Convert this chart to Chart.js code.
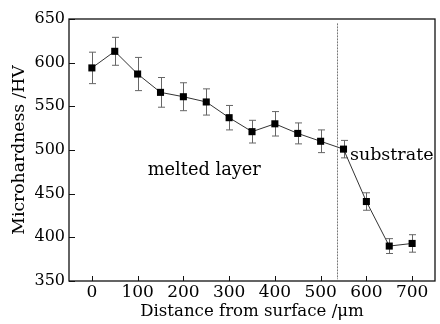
<!DOCTYPE html>
<html>
<head>
<meta charset="utf-8">
<script src="https://cdn.jsdelivr.net/npm/chart.js@4/dist/chart.umd.min.js"></script>
<style>
  html, body { margin: 0; padding: 0; background: #fff; }
  #wrap { width: 440px; height: 324px; position: relative; }
</style>
</head>
<body>
<div id="wrap"><canvas id="c" width="440" height="324"></canvas></div>
<script>
// ---- data ----
const distances = [0, 50, 100, 150, 200, 250, 300, 350, 400, 450, 500, 550, 600, 650, 700];
const hardness  = [594, 613, 587, 566, 561, 555, 537, 521, 530, 519, 510, 501, 441, 390, 393];
const errors    = [18, 16, 19, 17, 16, 15, 14, 13, 14, 12, 13, 10, 10, 8.5, 10];
const xTickValues = [0, 100, 200, 300, 400, 500, 600, 700];
const yTickValues = [350, 400, 450, 500, 550, 600, 650];
const boundaryDistance = 535;
const labelMelted = { text: 'melted layer', x: 122, y: 477 };
const labelSubstrate = { text: 'substrate', x: 564, y: 494 };

Chart.defaults.font.family = '"DejaVu Serif", "Liberation Serif", serif';
Chart.defaults.color = '#000';

const framePlugin = {
  id: 'frame',
  afterDatasetsDraw(chart) {
    const { ctx, chartArea: a, scales } = chart;
    const xs = scales.x, ys = scales.y;
    ctx.save();
    // boundary dotted line
    ctx.strokeStyle = '#777';
    ctx.lineWidth = 1;
    ctx.setLineDash([2, 1]);
    const bx = Math.round(xs.getPixelForValue(boundaryDistance)) + 0.5;
    ctx.beginPath();
    ctx.moveTo(bx, ys.getPixelForValue(645));
    ctx.lineTo(bx, ys.getPixelForValue(352));
    ctx.stroke();
    ctx.setLineDash([]);
    // frame
    ctx.strokeStyle = '#111';
    ctx.lineWidth = 1.3;
    ctx.strokeRect(a.left, a.top, a.right - a.left, a.bottom - a.top);
    // inward ticks
    ctx.lineWidth = 1;
    ctx.beginPath();
    xTickValues.forEach(v => {
      const px = Math.round(xs.getPixelForValue(v)) + 0.5;
      ctx.moveTo(px, a.bottom);
      ctx.lineTo(px, a.bottom - 5);
    });
    yTickValues.forEach(v => {
      const py = Math.round(ys.getPixelForValue(v)) + 0.5;
      ctx.moveTo(a.left, py);
      ctx.lineTo(a.left + 6, py);
    });
    ctx.stroke();
    // annotations
    ctx.fillStyle = '#000';
    ctx.font = '17.8px "DejaVu Serif", serif';
    ctx.textBaseline = 'middle';
    ctx.textAlign = 'left';
    ctx.fillText(labelMelted.text, xs.getPixelForValue(labelMelted.x), ys.getPixelForValue(labelMelted.y));
    ctx.font = '17.5px "DejaVu Serif", serif';
    ctx.fillText(labelSubstrate.text, xs.getPixelForValue(labelSubstrate.x), ys.getPixelForValue(labelSubstrate.y));
    ctx.restore();
  }
};

const errorBarPlugin = {
  id: 'errbars',
  beforeDatasetsDraw(chart) {
    const { ctx, scales } = chart;
    const xs = scales.x, ys = scales.y;
    ctx.save();
    ctx.strokeStyle = '#666';
    ctx.lineWidth = 1;
    ctx.beginPath();
    distances.forEach((d, i) => {
      const px = Math.round(xs.getPixelForValue(d)) + 0.5;
      const top = ys.getPixelForValue(hardness[i] + errors[i]);
      const bot = ys.getPixelForValue(hardness[i] - errors[i]);
      ctx.moveTo(px, top); ctx.lineTo(px, bot);
      ctx.moveTo(px - 3.5, top); ctx.lineTo(px + 3.5, top);
      ctx.moveTo(px - 3.5, bot); ctx.lineTo(px + 3.5, bot);
    });
    ctx.stroke();
    ctx.restore();
  }
};

new Chart(document.getElementById('c'), {
  type: 'line',
  data: {
    datasets: [{
      data: distances.map((d, i) => ({ x: d, y: hardness[i] })),
      borderColor: '#333',
      borderWidth: 1,
      pointStyle: 'rect',
      pointRadius: 5,
      pointBackgroundColor: '#000',
      pointBorderColor: '#000',
      pointBorderWidth: 0,
      tension: 0
    }]
  },
  options: {
    responsive: false,
    animation: false,
    events: [],
    layout: { padding: { top: 19, right: 3, left: 0, bottom: 0 } },
    plugins: { legend: { display: false }, tooltip: { enabled: false } },
    scales: {
      x: {
        type: 'linear',
        min: -50, max: 750,
        afterBuildTicks: s => { s.ticks = xTickValues.map(v => ({ value: v })); },
        afterFit: s => { s.height = 43; },
        grid: { display: false, drawTicks: false },
        border: { display: false },
        ticks: { font: { size: 17 }, padding: 1, maxRotation: 0, autoSkip: false },
        title: { display: true, text: 'Distance from surface /μm', font: { size: 16.6 }, padding: { top: 0, bottom: 2 } }
      },
      y: {
        type: 'linear',
        min: 350, max: 650,
        afterBuildTicks: s => { s.ticks = yTickValues.map(v => ({ value: v })); },
        afterFit: s => { s.width = 69; },
        grid: { display: false, drawTicks: false },
        border: { display: false },
        ticks: { font: { size: 16 }, padding: 4, autoSkip: false },
        title: { display: true, text: 'Microhardness /HV', font: { size: 17.2 }, padding: { top: 9, bottom: 0 } }
      }
    }
  },
  plugins: [errorBarPlugin, framePlugin]
});
</script>
</body>
</html>
